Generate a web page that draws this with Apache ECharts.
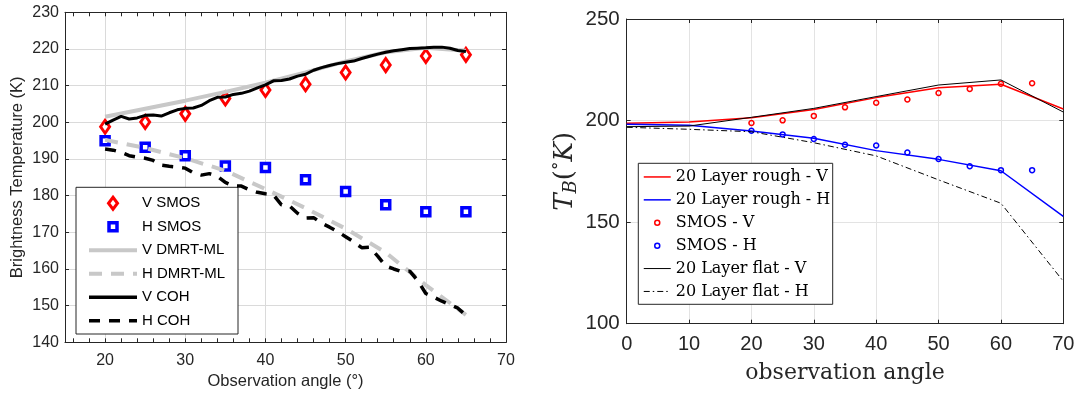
<!DOCTYPE html>
<html>
<head>
<meta charset="utf-8">
<script src="https://cdn.jsdelivr.net/npm/echarts@6/dist/echarts.min.js"></script>
<style>
  html, body { margin: 0; padding: 0; background: #ffffff; }
  #chart { width: 1089px; height: 397px; }
</style>
</head>
<body>
<div id="chart"></div>
<script>
// ---- SMOS observations (shared by both panels) ----
const smosAngles = [20, 25, 30, 35, 40, 45, 50, 55, 60, 65];
const smosV = [198.8, 200.1, 202.3, 206.5, 208.8, 210.4, 213.6, 215.6, 218.1, 218.4];
const smosH = [195.0, 193.2, 190.9, 188.1, 187.7, 184.3, 181.1, 177.5, 175.6, 175.6];

// ---- DMRT-ML model ----
const dmrtAngles = [20, 25, 30, 35, 40, 45, 50, 55, 60, 65];
const dmrtV = [201.5, 203.7, 205.9, 208.3, 210.8, 213.6, 216.6, 219.1, 220.3, 219.5];
const dmrtH = [195.2, 193.0, 190.2, 186.8, 181.8, 176.6, 171.0, 164.5, 155.6, 147.5];

// ---- Coherent model (1 degree steps) ----
const cohAngles = [20, 21, 22, 23, 24, 25, 26, 27, 28, 29, 30, 31, 32, 33, 34, 35, 36, 37, 38, 39, 40, 41, 42,
  43, 44, 45, 46, 47, 48, 49, 50, 51, 52, 53, 54, 55, 56, 57, 58, 59, 60, 61, 62, 63, 64, 65];
const cohV = [199.5, 200.6, 201.6, 200.9, 201.2, 201.9, 202.0, 201.7, 202.6, 203.4, 203.8, 203.9, 204.6, 205.9,
  206.8, 206.9, 207.6, 207.9, 208.5, 209.4, 210.2, 211.3, 211.4, 211.8, 212.6, 213.1, 214.2, 214.9, 215.5, 216.0,
  216.4, 216.7, 217.4, 218.0, 218.6, 219.1, 219.5, 219.8, 220.1, 220.2, 220.3, 220.5, 220.5, 220.2, 219.6, 219.3];
const cohH = [192.7, 192.4, 191.8, 190.9, 190.5, 190.2, 189.6, 188.3, 188.0, 187.8, 187.5, 186.2, 185.6, 186.0,
  185.3, 183.6, 182.6, 182.6, 181.6, 180.9, 180.5, 180.2, 177.5, 177.2, 175.2, 173.9, 174.0, 172.5, 171.4, 170.2,
  168.8, 167.4, 165.8, 165.9, 163.5, 160.8, 160.0, 159.3, 159.4, 156.8, 153.3, 152.3, 151.2, 150.3, 149.3, 147.4];

// ---- 20-layer model, rough and flat interfaces ----
const layerAngles = [0, 10, 20, 30, 40, 50, 60, 70];
const roughV = [198.7, 199.3, 201.4, 205.5, 211.3, 216.2, 217.9, 205.7];
const roughH = [198.2, 197.7, 194.9, 191.3, 185.2, 180.9, 175.3, 152.8];
const flatV = [197.0, 197.3, 201.6, 206.0, 211.8, 217.5, 220.0, 204.2];
const flatH = [196.7, 195.7, 194.5, 189.1, 182.6, 170.8, 159.3, 120.9];

// ---- tick positions for the left panel ----
const leftXLabels = [20, 30, 40, 50, 60, 70];
const leftXMinor = [16, 18, 20, 22, 24, 26, 28, 30, 32, 34, 36, 38, 40, 42, 44, 46, 48, 50,
  52, 54, 56, 58, 60, 62, 64, 66, 68, 70];

const pairs = (xs, ys) => xs.map((x, i) => [x, ys[i]]);

const AX = '#262626';
const SANS = 'Liberation Sans';
const SERIF = 'DejaVu Serif';
const RED = '#ff0000';
const BLUE = '#0000ff';
const GRAY = '#c8c8c8';

// narrow diamond / padded square used as legend icons
const diamondIcon = 'path://M0,-7 M0,7 M0,-6 L4.5,0 L0,6 L-4.5,0 Z';
const squareIcon = 'path://M-7,-7 M7,7 M-4,-4 L4,-4 L4,4 L-4,4 Z';

const boxAxis = (extra) => Object.assign({
  type: 'value',
  axisLine: { show: true, onZero: false, lineStyle: { color: AX, width: 1 } },
  axisTick: { show: true, inside: true, length: 4, lineStyle: { color: AX } },
  axisLabel: { show: false },
  splitLine: { show: false }
}, extra);

const option = {
  animation: false,
  backgroundColor: '#ffffff',
  grid: [
    { left: 65, top: 12.3, width: 441, height: 330 },
    { left: 626.7, top: 19, width: 436.6, height: 304.7 }
  ],
  xAxis: [
    boxAxis({
      gridIndex: 0, min: 15, max: 70, position: 'bottom',
      axisTick: { show: true, inside: true, length: 4, lineStyle: { color: AX }, customValues: leftXMinor },
      axisLabel: { show: true, customValues: leftXLabels, fontFamily: SANS, fontSize: 16, color: AX, margin: 10 },
      name: 'Observation angle (°)', nameLocation: 'middle', nameGap: 31,
      nameTextStyle: { fontFamily: SANS, fontSize: 16.5, color: AX }
    }),
    boxAxis({
      gridIndex: 0, min: 15, max: 70, position: 'top',
      axisTick: { show: true, inside: true, length: 4, lineStyle: { color: AX }, customValues: leftXMinor }
    }),
    {
      type: 'value', gridIndex: 0, min: 15, max: 70, position: 'bottom',
      axisLine: { show: false }, axisLabel: { show: false },
      axisTick: { show: false, customValues: leftXLabels },
      splitLine: { show: true, lineStyle: { color: '#dadada', width: 1 } }
    },
    boxAxis({
      gridIndex: 1, min: 0, max: 70, interval: 10, position: 'bottom',
      axisLabel: { show: true, fontFamily: SANS, fontSize: 20, color: AX, margin: 11 },
      splitLine: { show: true, lineStyle: { color: '#e3e3e3', width: 1 } },
      name: 'observation angle', nameLocation: 'middle', nameGap: 39,
      nameTextStyle: { fontFamily: SERIF, fontSize: 22, color: AX }
    }),
    boxAxis({ gridIndex: 1, min: 0, max: 70, interval: 10, position: 'top' })
  ],
  yAxis: [
    boxAxis({
      gridIndex: 0, min: 140, max: 230, interval: 10, position: 'left',
      axisLabel: { show: true, fontFamily: SANS, fontSize: 16, color: AX, margin: 6 },
      splitLine: { show: true, lineStyle: { color: '#dadada', width: 1 } },
      name: 'Brightness Temperature (K)', nameLocation: 'middle', nameGap: 39,
      nameTextStyle: { fontFamily: SANS, fontSize: 16.5, color: AX }
    }),
    boxAxis({ gridIndex: 0, min: 140, max: 230, interval: 10, position: 'right' }),
    boxAxis({
      gridIndex: 1, min: 100, max: 250, interval: 50, position: 'left',
      axisLabel: { show: true, fontFamily: SANS, fontSize: 20.5, color: AX, margin: 7 },
      splitLine: { show: true, lineStyle: { color: '#e3e3e3', width: 1 } },
      name: '{i|T}{b|B}{r|(}{s|°}{i|K}{r|)}', nameLocation: 'middle', nameGap: 46,
      nameTextStyle: {
        color: AX,
        rich: {
          i: { fontFamily: SERIF, fontStyle: 'italic', fontSize: 26, lineHeight: 30, color: AX },
          b: { fontFamily: SERIF, fontStyle: 'italic', fontSize: 18, lineHeight: 18, verticalAlign: 'bottom', color: AX },
          r: { fontFamily: SERIF, fontSize: 26, lineHeight: 30, color: AX },
          s: { fontFamily: SERIF, fontSize: 17, lineHeight: 17, verticalAlign: 'top', color: AX }
        }
      }
    }),
    boxAxis({ gridIndex: 1, min: 100, max: 250, interval: 50, position: 'right' })
  ],
  legend: [
    {
      orient: 'vertical', left: 87, top: 191.5, padding: 0, itemGap: 0,
      itemWidth: 48, itemHeight: 14, selectedMode: false,
      textStyle: { fontFamily: SANS, fontSize: 15, color: '#000', lineHeight: 23.5 },
      data: [
        { name: 'V SMOS', icon: diamondIcon, itemStyle: { color: '#fff', borderColor: RED, borderWidth: 3 } },
        { name: 'H SMOS', icon: squareIcon, itemStyle: { color: '#fff', borderColor: BLUE, borderWidth: 3.5 } },
        { name: 'V DMRT-ML', lineStyle: { width: 4 }, itemStyle: { opacity: 0 } },
        { name: 'H DMRT-ML', lineStyle: { width: 4 }, itemStyle: { opacity: 0 } },
        { name: 'V COH', lineStyle: { width: 3.5 }, itemStyle: { opacity: 0 } },
        { name: 'H COH', lineStyle: { width: 3.5 }, itemStyle: { opacity: 0 } }
      ]
    },
    {
      orient: 'vertical', left: 643, top: 165.5, padding: 0, itemGap: 0,
      itemWidth: 27, itemHeight: 5, selectedMode: false,
      textStyle: { fontFamily: SERIF, fontSize: 16, color: '#000', lineHeight: 22.9 },
      data: [
        { name: '20 Layer rough - V', lineStyle: { width: 1.5 }, itemStyle: { opacity: 0 } },
        { name: '20 Layer rough - H', lineStyle: { width: 1.5 }, itemStyle: { opacity: 0 } },
        { name: 'SMOS - V', icon: 'circle', itemStyle: { color: 'rgba(0,0,0,0)', borderColor: RED, borderWidth: 1.5 } },
        { name: 'SMOS - H', icon: 'circle', itemStyle: { color: 'rgba(0,0,0,0)', borderColor: BLUE, borderWidth: 1.5 } },
        { name: '20 Layer flat - V', lineStyle: { width: 1 }, itemStyle: { opacity: 0 } },
        { name: '20 Layer flat - H', lineStyle: { width: 1 }, itemStyle: { opacity: 0 } }
      ]
    }
  ],
  graphic: [
    { type: 'rect', z: 3, shape: { x: 76, y: 187.3, width: 162, height: 146.7 },
      style: { fill: '#fff', stroke: AX, lineWidth: 1 } },
    { type: 'rect', z: 3, shape: { x: 638.3, y: 163.3, width: 194.4, height: 141 },
      style: { fill: '#fff', stroke: AX, lineWidth: 1 } }
  ],
  series: [
    // left panel
    { name: 'V SMOS', type: 'scatter', xAxisIndex: 0, yAxisIndex: 0, data: pairs(smosAngles, smosV),
      symbol: 'diamond', symbolSize: [9, 13],
      itemStyle: { color: '#fff', borderColor: RED, borderWidth: 3, opacity: 1 } },
    { name: 'H SMOS', type: 'scatter', xAxisIndex: 0, yAxisIndex: 0, data: pairs(smosAngles, smosH),
      symbol: 'rect', symbolSize: 8,
      itemStyle: { color: '#fff', borderColor: BLUE, borderWidth: 3.5, opacity: 1 } },
    { name: 'V DMRT-ML', type: 'line', xAxisIndex: 0, yAxisIndex: 0, data: pairs(dmrtAngles, dmrtV),
      symbol: 'none', lineStyle: { color: GRAY, width: 4 }, itemStyle: { color: GRAY } },
    { name: 'H DMRT-ML', type: 'line', xAxisIndex: 0, yAxisIndex: 0, data: pairs(dmrtAngles, dmrtH),
      symbol: 'none', lineStyle: { color: GRAY, width: 4, type: [13, 9] }, itemStyle: { color: GRAY } },
    { name: 'V COH', type: 'line', xAxisIndex: 0, yAxisIndex: 0, data: pairs(cohAngles, cohV),
      symbol: 'none', lineStyle: { color: '#000', width: 3 }, itemStyle: { color: '#000' } },
    { name: 'H COH', type: 'line', xAxisIndex: 0, yAxisIndex: 0, data: pairs(cohAngles, cohH),
      symbol: 'none', lineStyle: { color: '#000', width: 3.5, type: [11, 9] }, itemStyle: { color: '#000' } },
    // right panel
    { name: '20 Layer rough - V', type: 'line', xAxisIndex: 3, yAxisIndex: 2, data: pairs(layerAngles, roughV),
      symbol: 'none', lineStyle: { color: RED, width: 1.5 }, itemStyle: { color: RED } },
    { name: '20 Layer rough - H', type: 'line', xAxisIndex: 3, yAxisIndex: 2, data: pairs(layerAngles, roughH),
      symbol: 'none', lineStyle: { color: BLUE, width: 1.5 }, itemStyle: { color: BLUE } },
    { name: 'SMOS - V', type: 'scatter', xAxisIndex: 3, yAxisIndex: 2, data: pairs(smosAngles, smosV),
      symbol: 'circle', symbolSize: 5,
      itemStyle: { color: 'rgba(0,0,0,0)', borderColor: RED, borderWidth: 1.5, opacity: 1 } },
    { name: 'SMOS - H', type: 'scatter', xAxisIndex: 3, yAxisIndex: 2, data: pairs(smosAngles, smosH),
      symbol: 'circle', symbolSize: 5,
      itemStyle: { color: 'rgba(0,0,0,0)', borderColor: BLUE, borderWidth: 1.5, opacity: 1 } },
    { name: '20 Layer flat - V', type: 'line', xAxisIndex: 3, yAxisIndex: 2, data: pairs(layerAngles, flatV),
      symbol: 'none', lineStyle: { color: '#000', width: 1 }, itemStyle: { color: '#000' } },
    { name: '20 Layer flat - H', type: 'line', xAxisIndex: 3, yAxisIndex: 2, data: pairs(layerAngles, flatH),
      symbol: 'none', lineStyle: { color: '#000', width: 1, type: [6, 3, 1.5, 3] }, itemStyle: { color: '#000' } }
  ]
};

const chart = echarts.init(document.getElementById('chart'), null, { renderer: 'canvas' });
chart.setOption(option);
</script>
</body>
</html>
